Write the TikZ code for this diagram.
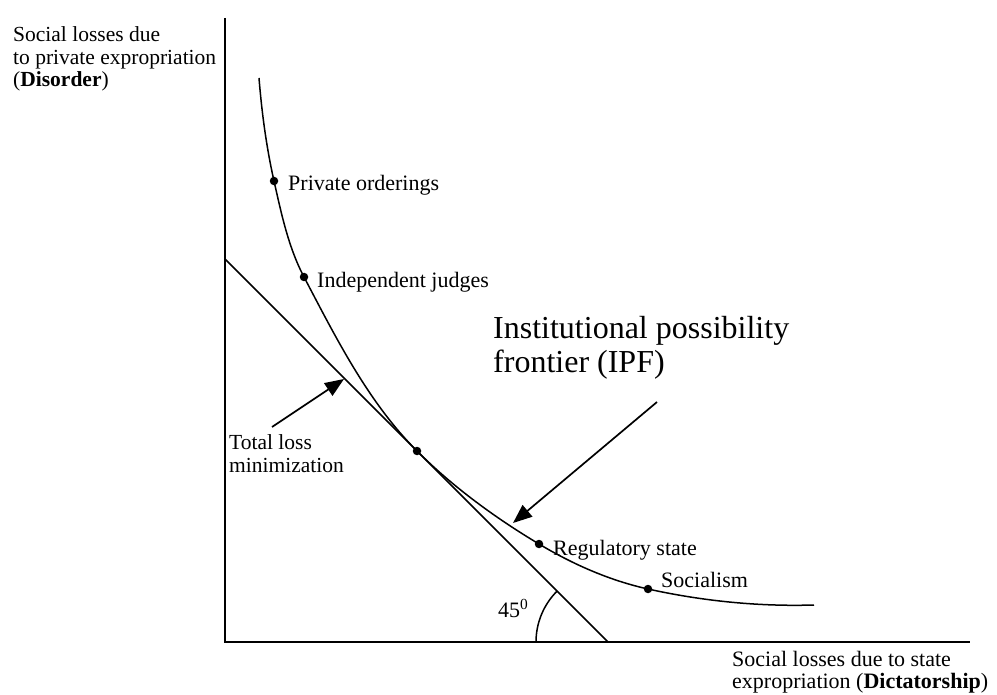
\documentclass[tikz,border=0pt]{standalone}
\usepackage{fontspec}
\setmainfont{Liberation Serif}
\usetikzlibrary{arrows.meta}
\tikzset{
  dot/.style={circle,fill=black,inner sep=0pt,minimum size=8.5pt},
  lbl/.style={anchor=base west,inner sep=0pt,font=\fontsize{22}{23}\selectfont},
  biglbl/.style={anchor=base west,inner sep=0pt,font=\fontsize{32}{35}\selectfont},
  axis/.style={line width=2pt},
  thin/.style={line width=1.5pt},
  pointer/.style={line width=1.7pt,-{Triangle[length=19pt,width=15pt]}}
}
\begin{document}
\begin{tikzpicture}[x=1pt,y=1pt]
\useasboundingbox (0,0) rectangle (997,-695);
% axes
\coordinate (ytop) at (225,-18);
\coordinate (orig) at (225,-642);
\coordinate (xend) at (970,-642);
\draw[axis] (ytop) -- (orig) -- (xend);
% tangent line
\coordinate (lt) at (225,-259);
\coordinate (lb) at (608,-642);
\draw[thin] (lt) -- (lb);
% 45 degree arc
\coordinate (arcstart) at (536,-642);
\draw[thin] (arcstart) arc[start angle=180,end angle=135,radius=72];
% frontier curve
\coordinate (c0) at (259,-78);
\coordinate (c1) at (274,-181);
\coordinate (c2) at (304,-277);
\coordinate (c3) at (417,-451);
\coordinate (c4) at (539,-544);
\coordinate (c5) at (648,-589);
\coordinate (c6) at (814,-605);
\draw[thin] (c0) .. controls (261.8,-112.6) and (266.4,-147.2) .. (c1)
  .. controls (281.4,-213.7) and (288.4,-247.4) .. (c2)
  .. controls (336.2,-338.2) and (368.1,-402.1) .. (c3)
  .. controls (453.1,-487.1) and (495.2,-517.8) .. (c4)
  .. controls (572.7,-564.2) and (609.6,-580.5) .. (c5)
  .. controls (702.3,-601.0) and (758.4,-606.7) .. (c6);
% dots
\node[dot] (po) at (c1) {};
\node[dot] (ij) at (c2) {};
\node[dot] (tm) at (c3) {};
\node[dot] (rs) at (c4) {};
\node[dot] (so) at (c5) {};
% labels
\node[lbl] (polbl) at (288,-191) {Private orderings};
\node[lbl] (ijlbl) at (317,-288) {Independent judges};
\node[lbl] (rslbl) at (553,-555) {Regulatory state};
\node[lbl] (solbl) at (661,-587) {Socialism};
\node[lbl] (deg) at (498,-617) {45\textsuperscript{0}};
\node[biglbl] (ipf) at (493,-338) {\begin{tabular}[t]{@{}l@{}}Institutional possibility\\frontier (IPF)\end{tabular}};
\node[lbl,font=\fontsize{21.5}{24}\selectfont] (tlm) at (229,-449) {\begin{tabular}[t]{@{}l@{}}Total loss\\minimization\end{tabular}};
\node[lbl,font=\fontsize{21.5}{22.5}\selectfont] (ylbl) at (13,-42) {\begin{tabular}[t]{@{}l@{}}Social losses due\\to private expropriation\\(\textbf{Disorder})\end{tabular}};
\node[lbl,font=\fontsize{22}{22.5}\selectfont] (xlbl) at (732,-666) {\begin{tabular}[t]{@{}l@{}}Social losses due to state\\expropriation (\textbf{Dictatorship})\end{tabular}};
% pointers
\coordinate (a1s) at (272,-427);
\coordinate (a1e) at (344,-379);
\draw[pointer] (a1s) -- (a1e);
\coordinate (a2s) at (657,-402);
\coordinate (a2e) at (513,-523);
\draw[pointer] (a2s) -- (a2e);
\end{tikzpicture}
\end{document}
